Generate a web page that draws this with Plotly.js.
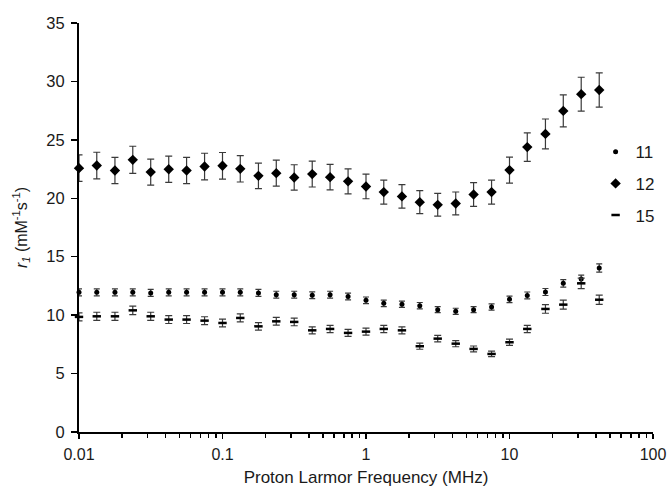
<!DOCTYPE html>
<html>
<head>
<meta charset="utf-8">
<script src="https://cdn.plot.ly/plotly-3.0.1.min.js"></script>
<style>html,body{margin:0;padding:0;background:#fff;}#chart{width:672px;height:487px;}</style>
</head>
<body>
<div id="chart"></div>
<script>
// Proton Larmor frequency (MHz)
const freq = [0.01, 0.0133, 0.0178, 0.0237, 0.0316, 0.0422, 0.0562, 0.075,
              0.1, 0.133, 0.178, 0.237, 0.316, 0.422, 0.562, 0.75,
              1, 1.33, 1.78, 2.37, 3.16, 4.22, 5.62, 7.5,
              10, 13.3, 17.8, 23.7, 31.6, 42.2];
// r1 (mM^-1 s^-1)
const s11 = [11.95, 11.95, 11.95, 11.95, 11.9, 11.95, 11.95, 11.95,
             11.95, 11.95, 11.9, 11.75, 11.75, 11.7, 11.75, 11.6,
             11.27, 11.01, 10.93, 10.81, 10.47, 10.33, 10.47, 10.7,
             11.35, 11.69, 11.98, 12.72, 13.1, 14.03];
const s12 = [22.58, 22.8, 22.38, 23.29, 22.24, 22.49, 22.38, 22.72,
             22.78, 22.52, 21.92, 22.15, 21.78, 22.07, 21.81, 21.45,
             21.01, 20.53, 20.16, 19.67, 19.44, 19.56, 20.33, 20.53,
             22.41, 24.38, 25.51, 27.48, 28.91, 29.27];
const s15 = [9.85, 9.9, 9.9, 10.41, 9.9, 9.62, 9.62, 9.53,
             9.33, 9.76, 9.04, 9.47, 9.42, 8.7, 8.82, 8.48,
             8.59, 8.82, 8.7, 7.34, 7.99, 7.56, 7.11, 6.68,
             7.68, 8.82, 10.53, 10.9, 12.72, 11.32];
// error bars, percent of value
const err11 = 2.5, err12 = 5, err15 = 3.5;
const names = ['11', '12', '15'];

const FONT = '"Liberation Sans", Arial, sans-serif';
const ebar = (p, w) => ({type: 'percent', value: p, visible: true, color: '#3a3a3a', thickness: 1.2, width: w});

const traces = [
  {x: freq, y: s11, name: names[0], type: 'scatter', mode: 'markers', cliponaxis: false, legendgroup: 'a',
   marker: {symbol: 'circle', size: 5, color: '#000'}, error_y: ebar(err11, 3)},
  {x: freq, y: s12, name: names[1], type: 'scatter', mode: 'markers', cliponaxis: false, legendgroup: 'b',
   marker: {symbol: 'diamond', size: 8, color: '#000'}, error_y: ebar(err12, 3.5)},
  {x: freq, y: s15, name: names[2], type: 'scatter', mode: 'markers', cliponaxis: false, legendgroup: 'c',
   marker: {symbol: 'line-ew', size: 6, color: '#000', line: {color: '#000', width: 2.5}}, error_y: ebar(err15, 3.5)}
];

const layout = {
  width: 672, height: 487,
  margin: {l: 79, r: 17, t: 23, b: 55},
  paper_bgcolor: '#fff', plot_bgcolor: '#fff',
  font: {family: FONT, size: 16, color: '#1a1a1a'},
  showlegend: true,
  legend: {x: 0.9, xanchor: 'left', y: 0.728, yanchor: 'top', tracegroupgap: 6.5,
           font: {family: FONT, size: 17, color: '#1a1a1a'}, bgcolor: 'rgba(0,0,0,0)'},
  xaxis: {
    type: 'log', range: [-2, 2],
    tickvals: [0.01, 0.1, 1, 10, 100], ticktext: ['0.01', '0.1', '1', '10', '100'],
    ticks: 'outside', ticklen: 5, tickwidth: 1.5, tickcolor: '#000', ticklabelstandoff: 2,
    minor: {ticks: 'outside', ticklen: 4, tickwidth: 1.5, tickcolor: '#000',
            tickvals: [0.02,0.03,0.04,0.05,0.06,0.07,0.08,0.09,0.2,0.3,0.4,0.5,0.6,0.7,0.8,0.9,2,3,4,5,6,7,8,9,20,30,40,50,60,70,80,90], showgrid: false},
    showline: true, linecolor: '#000', linewidth: 2, showgrid: false, zeroline: false,
    tickfont: {size: 16},
    title: {text: 'Proton Larmor Frequency (MHz)', font: {size: 17}, standoff: 13}
  },
  yaxis: {
    range: [0, 35], tickvals: [0, 5, 10, 15, 20, 25, 30, 35],
    ticks: 'outside', ticklen: 6, tickwidth: 1.5, tickcolor: '#000', ticklabelstandoff: 3,
    showline: true, linecolor: '#000', linewidth: 2, showgrid: false, zeroline: false,
    tickfont: {size: 16.5},
    title: {text: '<i>r<sub>1</sub></i> (mM<sup>-1</sup>s<sup>-1</sup>)', font: {size: 16}, standoff: 15}
  }
};

Plotly.newPlot('chart', traces, layout, {displayModeBar: false, staticPlot: true});
</script>
</body>
</html>
